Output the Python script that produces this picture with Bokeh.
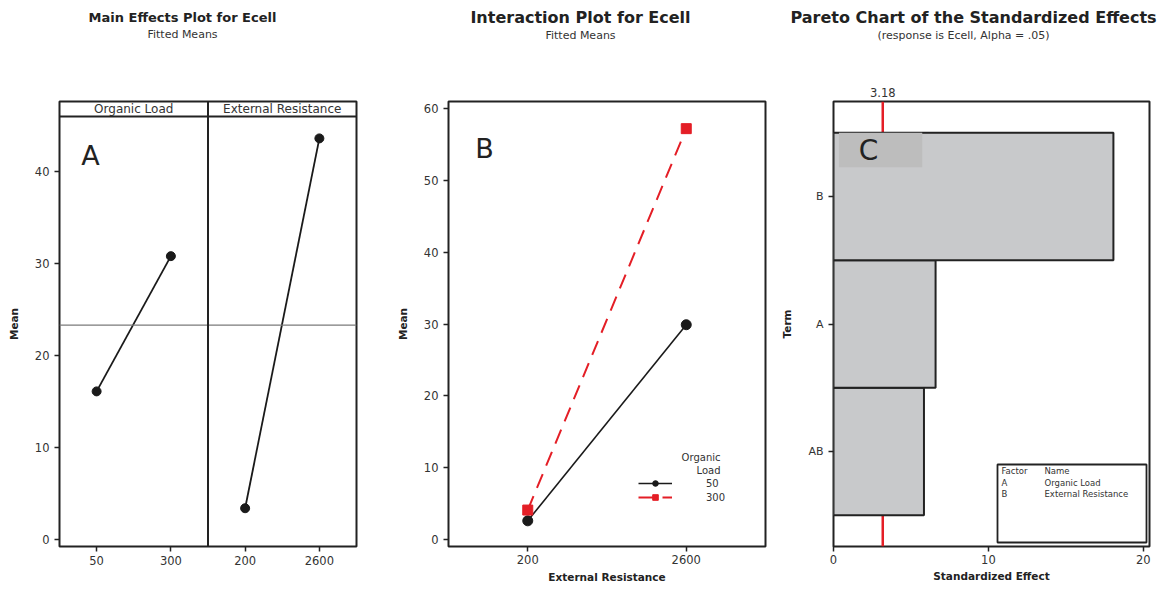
from bokeh.plotting import figure
from bokeh.models import (FactorRange, Range1d, FixedTicker, Span, Label, Legend,
                          LegendItem, BoxAnnotation, LinearAxis)
from bokeh.layouts import row, column
from bokeh.embed import file_html
from bokeh.resources import INLINE

FONT = "DejaVu Sans"
TXT = "#333333"
INK = "#222222"
RED = "#e41e26"

# ---------------- data ----------------
# Main effects (fitted means)
ol_levels = ["50", "300"]
ol_means = [16.1, 30.8]
er_levels = ["200", "2600"]
er_means = [3.4, 43.6]
grand_mean = 23.3
facet_names = ["Organic Load", "External Resistance"]

# Interaction (fitted means) by External Resistance
ol50_means = [2.6, 29.9]
ol300_means = [4.1, 57.2]
legend_labels = ["50", "300"]

# Pareto of standardized effects
terms = ["AB", "A", "B"]
effects = [5.84, 6.59, 18.07]
t_crit = 3.18
factor_codes = ["A", "B"]
factor_full = ["Organic Load", "External Resistance"]

W = 1164
HEAD = 50
H = 589 - HEAD


def style(p):
    p.outline_line_color = INK
    p.outline_line_width = 2
    p.xgrid.visible = False
    p.ygrid.visible = False
    p.background_fill_color = "white"
    p.border_fill_color = "white"
    for ax in p.axis:
        ax.axis_line_color = None
        ax.major_tick_line_color = INK
        ax.major_tick_line_width = 1.5
        ax.major_tick_out = 5
        ax.major_tick_in = 0
        ax.minor_tick_line_color = None
        ax.major_label_text_font = FONT
        ax.major_label_text_font_size = "11.5px"
        ax.major_label_text_color = TXT
        ax.axis_label_text_font = FONT
        ax.axis_label_text_font_size = "10.5px"
        ax.axis_label_text_font_style = "bold"
        ax.axis_label_text_color = INK


def lab(p, text, x, y, size="11px", style="normal", align="center", xu="screen",
        yu="screen", color=TXT, baseline="middle"):
    p.add_layout(Label(x=x, y=y, x_units=xu, y_units=yu, text=text,
                       text_font=FONT, text_font_size=size, text_font_style=style,
                       text_align=align, text_baseline=baseline, text_color=color))


# ---------------- header strip with the three titles ----------------
ph = figure(width=W, height=HEAD, x_range=Range1d(0, W), y_range=Range1d(0, HEAD),
            output_backend="svg", toolbar_location=None, min_border=0,
            x_axis_location=None, y_axis_location=None)
ph.outline_line_color = None
ph.xgrid.visible = False
ph.ygrid.visible = False
lab(ph, "Main Effects Plot for Ecell", 182, 33, size="13px", style="bold", color=INK,
    xu="data", yu="data")
lab(ph, "Fitted Means", 182, 16, size="11px", xu="data", yu="data")
lab(ph, "Interaction Plot for Ecell", 580, 33, size="16px", style="bold", color=INK,
    xu="data", yu="data")
lab(ph, "Fitted Means", 580, 15, size="11px", xu="data", yu="data")
lab(ph, "Pareto Chart of the Standardized Effects", 790, 33, size="16px", style="bold",
    align="left", color=INK, xu="data", yu="data")
lab(ph, "(response is Ecell, Alpha = .05)", 963, 15, size="11px", xu="data", yu="data")

TOP = 101 - HEAD

# ---------------- panel A: main effects ----------------
pa = figure(width=380, height=H, x_range=FactorRange(*(ol_levels + er_levels)),
            y_range=Range1d(-0.76, 47.61), output_backend="svg", toolbar_location=None,
            min_border_left=59, min_border_right=24, min_border_top=TOP, min_border_bottom=43)
style(pa)
pa.yaxis.ticker = FixedTicker(ticks=[0, 10, 20, 30, 40])
pa.yaxis.axis_label = "Mean"
pa.yaxis.axis_label_standoff = 12
pa.xaxis.major_label_standoff = 4

pa.add_layout(Span(location=grand_mean, dimension="width", line_color="#7a7a7a", line_width=1.3))
pa.add_layout(Span(location=2, dimension="height", line_color=INK, line_width=2))
pa.add_layout(Span(location=45.98, dimension="width", line_color=INK, line_width=1.8))

pa.line(x=ol_levels, y=ol_means, line_color="#1a1a1a", line_width=1.8)
pa.scatter(x=ol_levels, y=ol_means, size=9, color="#1a1a1a")
pa.line(x=er_levels, y=er_means, line_color="#1a1a1a", line_width=1.8)
pa.scatter(x=er_levels, y=er_means, size=9, color="#1a1a1a")

lab(pa, facet_names[0], 1.0, 437.5, size="12px", xu="data")
lab(pa, facet_names[1], 3.0, 437.5, size="12px", xu="data")
lab(pa, "A", 31, 391, size="27px", color=INK)

# ---------------- panel B: interaction ----------------
pb = figure(width=395, height=H, x_range=FactorRange(*er_levels),
            y_range=Range1d(-0.975, 60.98), output_backend="svg", toolbar_location=None,
            min_border_left=68, min_border_right=10, min_border_top=TOP, min_border_bottom=43)
style(pb)
pb.yaxis.ticker = FixedTicker(ticks=[0, 10, 20, 30, 40, 50, 60])
pb.yaxis.axis_label = "Mean"
pb.yaxis.axis_label_standoff = 12
pb.xaxis.axis_label = "External Resistance"
pb.xaxis.major_label_standoff = 3
pb.xaxis.axis_label_standoff = 4

l1 = pb.line(x=er_levels, y=ol50_means, line_color="#1a1a1a", line_width=1.6)
s1 = pb.scatter(x=er_levels, y=ol50_means, size=10, color="#1a1a1a")
l2 = pb.line(x=er_levels, y=ol300_means, line_color=RED, line_width=2, line_dash="15 9")
s2 = pb.scatter(x=er_levels, y=ol300_means, size=10, marker="square", color=RED)

leg = Legend(items=[LegendItem(label=legend_labels[0], renderers=[l1, s1]),
                    LegendItem(label=legend_labels[1], renderers=[l2, s2])],
             location=(190, 42), glyph_width=34, glyph_height=14, label_height=14,
             label_standoff=34, spacing=0, padding=0, margin=0,
             border_line_color=None, background_fill_alpha=0,
             label_text_font=FONT, label_text_font_size="10px", label_text_color=TXT)
pb.add_layout(leg)
lab(pb, "Organic", 272, 89, size="10px", align="right")
lab(pb, "Load", 272, 76, size="10px", align="right")
lab(pb, "B", 36, 398, size="27px", color=INK)

# ---------------- panel C: pareto ----------------
pc = figure(width=389, height=H, x_range=Range1d(0, 20.4),
            y_range=FactorRange(*terms, range_padding=0.245, range_padding_units="absolute"),
            output_backend="svg", toolbar_location=None,
            min_border_left=58, min_border_right=15, min_border_top=TOP - 1, min_border_bottom=43)
crit_axis = LinearAxis(ticker=FixedTicker(ticks=[t_crit]))
pc.add_layout(crit_axis, "above")
style(pc)
crit_axis.major_tick_line_color = None
crit_axis.major_tick_out = 0
crit_axis.major_label_standoff = 5
crit_axis.major_label_text_font_size = "11.5px"
for ax in pc.below:
    ax.ticker = FixedTicker(ticks=[0, 10, 20])
    ax.axis_label = "Standardized Effect"
    ax.major_label_standoff = 3
    ax.axis_label_standoff = 3
pc.yaxis.axis_label = "Term"
pc.yaxis.axis_label_standoff = 12
pc.yaxis.major_label_text_font_size = "11px"

pc.add_layout(Span(location=t_crit, dimension="height", line_color=RED, line_width=2.5,
                   level="underlay"))
pc.hbar(y=terms, right=effects, left=0, height=1, fill_color="#c8c9cb",
        line_color=INK, line_width=2)
pc.add_layout(BoxAnnotation(left=0.35, right=5.73, top=3.0, bottom=2.73,
                            fill_color="#bdbdbd", fill_alpha=1, line_color=None))
lab(pc, "C", 35, 396, size="28px", color=INK)

pc.add_layout(BoxAnnotation(left=164, right=313, bottom=4, top=82,
                            left_units="screen", right_units="screen",
                            top_units="screen", bottom_units="screen",
                            fill_alpha=0, line_color=INK, line_alpha=1, line_width=1.8))
lab(pc, "Factor", 168, 76, size="8.5px", align="left")
lab(pc, "Name", 211, 76, size="8.5px", align="left")
for i, (c, n) in enumerate(zip(factor_codes, factor_full)):
    lab(pc, c, 168, 64 - i * 11, size="8.5px", align="left")
    lab(pc, n, 211, 64 - i * 11, size="8.5px", align="left")

layout = column(ph, row(pa, pb, pc, spacing=0), spacing=0)
open("out.html", "w").write(file_html(layout, INLINE))
